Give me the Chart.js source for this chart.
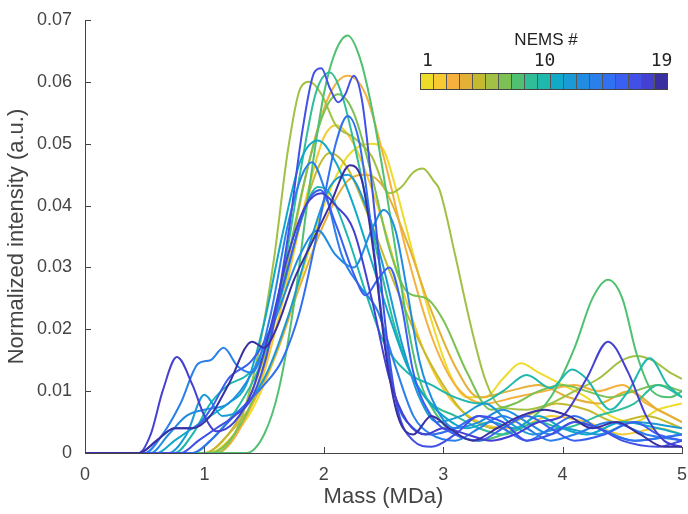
<!DOCTYPE html>
<html>
<head>
<meta charset="utf-8">
<script src="https://cdn.jsdelivr.net/npm/chart.js@4/dist/chart.umd.min.js"></script>
<style>
  body { margin: 0; background: #fff; }
  #wrap { position: relative; width: 688px; height: 514px; }
  #bar { position: absolute; left: 420px; top: 73px; height: 15px; display: flex; border: 1px solid #444; }
  #bar div { width: 12px; height: 15px; border-right: 1px solid #555; }
  #bar div:last-child { border-right: none; }
  .lbl { position: absolute; font-family: "DejaVu Sans Mono", monospace; font-size: 18px; color: #222; transform: translateX(-50%); top: 49px; }
  #ttl { position: absolute; left: 546px; top: 30px; transform: translateX(-50%); font-family: "Liberation Sans", Arial, sans-serif; font-size: 17px; color: #222; }
</style>
</head>
<body>
<div id="wrap">
  <canvas id="c" width="688" height="514"></canvas>
  <div id="ttl">NEMS #</div>
  <div id="bar"></div>
</div>
<script>
// parula-like colours, NEMS 1..19
const colors = ['#eedc2a', '#f7c932', '#f5b03e', '#e4b036', '#c4ba30', '#a2c043', '#7bc153', '#4fc170', '#2fbe98',
  '#1fb8ad', '#10a9c8', '#1a9bd6', '#208ce2', '#2a80ea', '#3170f0', '#3a60f2', '#4150e6', '#4440d2', '#3a2fa0'];

const xTicks = [0, 1, 2, 3, 4, 5];
const yTicks = ['0', '0.01', '0.02', '0.03', '0.04', '0.05', '0.06', '0.07'];
const barLabels = ['1', '10', '19'];

// [mass (MDa), normalized intensity]
const nems1 = [[0,0],[1.05,0],[1.2,0.002],[1.4,0.007],[1.6,0.016],[1.8,0.028],[2.0,0.040],[2.2,0.048],[2.4,0.050],[2.5,0.049],[2.6,0.043],[2.75,0.032],[2.9,0.0215],[3.05,0.013],[3.2,0.009],[3.35,0.009],[3.5,0.012],[3.65,0.0145],[3.8,0.013],[4.0,0.011],[4.2,0.009],[4.4,0.006],[4.6,0.005],[4.8,0.007],[5,0.008]];
const nems2 = [[0,0],[1.05,0],[1.25,0.003],[1.45,0.010],[1.65,0.024],[1.85,0.041],[2.0,0.051],[2.1,0.053],[2.25,0.050],[2.45,0.040],[2.65,0.027],[2.85,0.016],[3.05,0.009],[3.3,0.005],[3.6,0.004],[3.9,0.006],[4.2,0.005],[4.5,0.003],[4.8,0.004],[5,0.003]];
const nems3 = [[0,0],[1.1,0],[1.3,0.004],[1.5,0.014],[1.7,0.031],[1.9,0.049],[2.05,0.058],[2.2,0.061],[2.35,0.058],[2.5,0.048],[2.7,0.032],[2.9,0.019],[3.1,0.011],[3.35,0.008],[3.6,0.009],[3.85,0.010],[4.1,0.011],[4.3,0.010],[4.5,0.011],[4.7,0.008],[4.9,0.006],[5,0.005]];
const nems4 = [[0,0],[1.0,0],[1.2,0.003],[1.4,0.008],[1.6,0.016],[1.8,0.027],[2.0,0.037],[2.2,0.044],[2.35,0.045],[2.5,0.043],[2.7,0.034],[2.9,0.023],[3.1,0.014],[3.3,0.009],[3.55,0.010],[3.8,0.011],[4.05,0.009],[4.3,0.008],[4.55,0.010],[4.8,0.007],[5,0.005]];
const nems5 = [[0,0],[1.0,0],[1.2,0.003],[1.4,0.010],[1.6,0.022],[1.8,0.037],[1.95,0.046],[2.05,0.0485],[2.2,0.046],[2.4,0.037],[2.6,0.027],[2.8,0.018],[3.0,0.011],[3.2,0.006],[3.45,0.004],[3.7,0.006],[3.95,0.008],[4.2,0.007],[4.45,0.005],[4.7,0.006],[5,0.004]];
const nems6 = [[0,0],[1.1,0],[1.25,0.003],[1.35,0.008],[1.45,0.016],[1.58,0.031],[1.7,0.049],[1.8,0.0588],[1.88,0.060],[1.98,0.058],[2.1,0.053],[2.25,0.051],[2.4,0.048],[2.55,0.042],[2.65,0.043],[2.75,0.0454],[2.83,0.046],[2.92,0.044],[2.97,0.0425],[3.1,0.032],[3.22,0.0215],[3.35,0.012],[3.48,0.0075],[3.7,0.007],[3.9,0.008],[4.1,0.010],[4.3,0.012],[4.5,0.015],[4.62,0.0157],[4.75,0.015],[4.9,0.013],[5,0.012]];
const nems7 = [[0,0],[1.05,0],[1.25,0.003],[1.45,0.011],[1.65,0.027],[1.85,0.045],[2.0,0.055],[2.12,0.058],[2.25,0.055],[2.4,0.045],[2.55,0.033],[2.7,0.026],[2.86,0.025],[3.0,0.0215],[3.2,0.013],[3.4,0.007],[3.6,0.008],[3.8,0.010],[4.0,0.011],[4.2,0.010],[4.4,0.009],[4.6,0.010],[4.8,0.011],[5,0.010]];
const nems8 = [[0,0],[1.35,0],[1.5,0.003],[1.62,0.010],[1.75,0.024],[1.88,0.043],[2.0,0.058],[2.1,0.065],[2.2,0.0675],[2.3,0.064],[2.4,0.056],[2.5,0.045],[2.6,0.033],[2.7,0.021],[2.8,0.012],[2.95,0.006],[3.1,0.003],[3.3,0.002],[3.5,0.003],[3.7,0.005],[3.9,0.009],[4.1,0.017],[4.25,0.025],[4.38,0.028],[4.5,0.025],[4.62,0.016],[4.75,0.010],[4.9,0.009],[5,0.010]];
const nems9 = [[0,0],[0.9,0],[1.1,0.003],[1.3,0.008],[1.5,0.016],[1.65,0.028],[1.8,0.045],[1.93,0.058],[2.05,0.0615],[2.15,0.058],[2.3,0.046],[2.45,0.032],[2.6,0.020],[2.75,0.012],[2.9,0.008],[3.1,0.006],[3.3,0.004],[3.5,0.003],[3.8,0.005],[4.0,0.004],[4.3,0.006],[4.6,0.008],[4.8,0.011],[5,0.009]];
const nems10 = [[0,0],[0.75,0],[0.9,0.003],[1.05,0.008],[1.2,0.011],[1.35,0.0125],[1.5,0.016],[1.65,0.026],[1.8,0.037],[1.95,0.043],[2.05,0.042],[2.2,0.035],[2.35,0.026],[2.5,0.018],[2.7,0.013],[2.9,0.011],[3.1,0.009],[3.3,0.008],[3.5,0.010],[3.7,0.0126],[3.9,0.0105],[4.08,0.0135],[4.2,0.012],[4.4,0.007],[4.55,0.010],[4.73,0.0153],[4.88,0.011],[5,0.009]];
const nems11 = [[0,0],[0.6,0],[0.75,0.002],[0.9,0.004],[1.05,0.006],[1.2,0.008],[1.35,0.011],[1.5,0.021],[1.65,0.035],[1.8,0.047],[1.95,0.0505],[2.1,0.047],[2.25,0.040],[2.4,0.031],[2.55,0.022],[2.7,0.014],[2.85,0.009],[3.0,0.006],[3.2,0.004],[3.4,0.005],[3.6,0.004],[3.8,0.006],[4.0,0.004],[4.2,0.003],[4.5,0.005],[4.8,0.004],[5,0.003]];
const nems12 = [[0,0],[0.7,0],[0.85,0.003],[1.0,0.0094],[1.15,0.006],[1.3,0.007],[1.5,0.012],[1.7,0.022],[1.9,0.035],[2.05,0.043],[2.2,0.045],[2.35,0.040],[2.5,0.030],[2.65,0.018],[2.8,0.009],[2.95,0.005],[3.15,0.006],[3.35,0.008],[3.55,0.005],[3.75,0.003],[4.0,0.004],[4.3,0.003],[4.6,0.005],[5,0.004]];
const nems13 = [[0,0],[0.55,0],[0.7,0.003],[0.85,0.006],[1.0,0.007],[1.2,0.008],[1.4,0.013],[1.6,0.022],[1.8,0.032],[1.95,0.036],[2.1,0.032],[2.25,0.030],[2.4,0.036],[2.5,0.0393],[2.6,0.036],[2.7,0.026],[2.8,0.015],[2.95,0.007],[3.1,0.004],[3.3,0.005],[3.5,0.007],[3.7,0.005],[3.9,0.003],[4.1,0.005],[4.3,0.004],[4.6,0.002],[5,0.003]];
const nems14 = [[0,0],[0.5,0],[0.65,0.003],[0.8,0.008],[0.95,0.0145],[1.05,0.015],[1.16,0.017],[1.28,0.014],[1.4,0.013],[1.55,0.022],[1.7,0.037],[1.82,0.045],[1.9,0.047],[2.0,0.043],[2.15,0.032],[2.3,0.027],[2.45,0.023],[2.6,0.014],[2.75,0.006],[2.9,0.003],[3.1,0.002],[3.3,0.004],[3.5,0.006],[3.7,0.004],[3.9,0.002],[4.1,0.003],[4.4,0.005],[4.7,0.003],[5,0.002]];
const nems15 = [[0,0],[0.9,0],[1.05,0.002],[1.2,0.005],[1.35,0.008],[1.5,0.011],[1.65,0.015],[1.8,0.023],[1.95,0.036],[2.1,0.050],[2.2,0.0545],[2.3,0.050],[2.4,0.036],[2.5,0.020],[2.6,0.009],[2.75,0.004],[2.9,0.003],[3.1,0.004],[3.3,0.006],[3.5,0.004],[3.7,0.002],[3.9,0.004],[4.1,0.006],[4.3,0.004],[4.6,0.002],[5,0.003]];
const nems16 = [[0,0],[0.45,0],[0.6,0.002],[0.75,0.004],[0.9,0.004],[1.05,0.007],[1.2,0.012],[1.4,0.015],[1.55,0.020],[1.7,0.030],[1.85,0.040],[1.97,0.0425],[2.1,0.037],[2.25,0.029],[2.35,0.0255],[2.45,0.028],[2.55,0.030],[2.65,0.024],[2.75,0.013],[2.9,0.006],[3.1,0.003],[3.3,0.002],[3.5,0.004],[3.7,0.006],[3.9,0.004],[4.1,0.002],[4.35,0.003],[4.6,0.005],[4.8,0.003],[5,0.002]];
const nems17 = [[0,0],[0.8,0],[0.95,0.002],[1.1,0.004],[1.25,0.006],[1.4,0.009],[1.55,0.018],[1.7,0.035],[1.82,0.052],[1.92,0.0615],[1.98,0.0622],[2.05,0.059],[2.12,0.0567],[2.18,0.058],[2.25,0.061],[2.32,0.057],[2.42,0.040],[2.52,0.020],[2.62,0.007],[2.75,0.002],[2.9,0.001],[3.1,0.003],[3.3,0.006],[3.5,0.005],[3.7,0.002],[3.9,0.003],[4.1,0.005],[4.3,0.004],[4.5,0.002],[4.8,0.001],[5,0.002]];
const nems18 = [[0,0],[0.45,0],[0.55,0.003],[0.65,0.010],[0.77,0.0155],[0.9,0.011],[1.0,0.006],[1.1,0.0035],[1.25,0.005],[1.4,0.010],[1.55,0.020],[1.7,0.032],[1.85,0.040],[1.98,0.042],[2.1,0.040],[2.25,0.036],[2.4,0.025],[2.55,0.012],[2.7,0.005],[2.85,0.003],[3.0,0.004],[3.2,0.003],[3.4,0.002],[3.6,0.003],[3.8,0.005],[4.0,0.006],[4.2,0.012],[4.38,0.018],[4.55,0.013],[4.7,0.006],[4.85,0.002],[5,0.001]];
const nems19 = [[0,0],[0.45,0],[0.6,0.002],[0.75,0.004],[0.9,0.004],[1.05,0.006],[1.2,0.011],[1.4,0.018],[1.5,0.017],[1.6,0.020],[1.75,0.028],[1.9,0.034],[2.05,0.040],[2.22,0.0465],[2.32,0.044],[2.42,0.032],[2.52,0.016],[2.62,0.006],[2.75,0.003],[2.9,0.006],[3.05,0.004],[3.25,0.002],[3.45,0.004],[3.65,0.006],[3.85,0.007],[4.05,0.006],[4.25,0.004],[4.45,0.005],[4.65,0.003],[4.85,0.001],[5,0.001]];

const series = [nems1, nems2, nems3, nems4, nems5, nems6, nems7, nems8, nems9, nems10,
  nems11, nems12, nems13, nems14, nems15, nems16, nems17, nems18, nems19];

// colour bar
const bar = document.getElementById('bar');
colors.forEach(c => {
  const d = document.createElement('div');
  d.style.background = c;
  bar.appendChild(d);
});
const wrap = document.getElementById('wrap');
[[barLabels[0], 0], [barLabels[1], 9], [barLabels[2], 18]].forEach(([t, i]) => {
  const s = document.createElement('div');
  s.className = 'lbl';
  s.textContent = t;
  s.style.left = (421 + i * 13 + 6.5) + 'px';
  wrap.appendChild(s);
});

// MATLAB style ticks pointing into the plot
const innerTicks = {
  id: 'innerTicks',
  afterDatasetsDraw(chart) {
    const { ctx, chartArea, scales } = chart;
    ctx.save();
    ctx.strokeStyle = '#444';
    ctx.lineWidth = 1;
    ctx.beginPath();
    scales.x.ticks.forEach(t => {
      const px = Math.round(scales.x.getPixelForValue(t.value)) + 0.5;
      ctx.moveTo(px, chartArea.bottom);
      ctx.lineTo(px, chartArea.bottom - 6);
    });
    scales.y.ticks.forEach(t => {
      const py = Math.round(scales.y.getPixelForValue(t.value)) + 0.5;
      ctx.moveTo(chartArea.left, py);
      ctx.lineTo(chartArea.left + 6, py);
    });
    ctx.stroke();
    ctx.restore();
  }
};

const font = { family: '"Liberation Sans", Arial, sans-serif', size: 18 };

new Chart(document.getElementById('c'), {
  type: 'line',
  data: {
    datasets: series.map((s, i) => ({
      label: 'NEMS ' + (i + 1),
      data: s,
      borderColor: colors[i],
      borderWidth: 2,
      pointRadius: 0,
      fill: false,
      cubicInterpolationMode: 'monotone',
      order: series.length - i
    }))
  },
  options: {
    responsive: false,
    animation: false,
    devicePixelRatio: 1,
    layout: { padding: { top: 20, right: 6, left: 0, bottom: 0 } },
    plugins: { legend: { display: false }, tooltip: { enabled: false } },
    scales: {
      x: {
        type: 'linear',
        min: 0, max: 5,
        afterBuildTicks: s => { s.ticks = xTicks.map(v => ({ value: v })); },
        afterFit: s => { s.height = 61; s.paddingLeft = 0; s.paddingRight = 0; },
        grid: { display: false },
        border: { display: true, color: '#444', width: 1 },
        ticks: { color: '#444', font, padding: 3, maxRotation: 0, callback: v => String(v) },
        title: { display: true, text: 'Mass (MDa)', color: '#444', font: { ...font, size: 22 }, padding: { top: 0, bottom: 4 } }
      },
      y: {
        min: 0, max: 0.07,
        afterBuildTicks: s => { s.ticks = yTicks.map(v => ({ value: parseFloat(v) })); },
        afterFit: s => { s.width = 85; s.paddingTop = 0; s.paddingBottom = 0; },
        grid: { display: false },
        border: { display: true, color: '#444', width: 1 },
        ticks: { color: '#444', font, padding: 5, callback: (v, i) => yTicks[i] },
        title: { display: true, text: 'Normalized intensity (a.u.)', color: '#444', font: { ...font, size: 22 }, padding: { top: 4, bottom: 0 } }
      }
    }
  },
  plugins: [innerTicks]
});
</script>
</body>
</html>
